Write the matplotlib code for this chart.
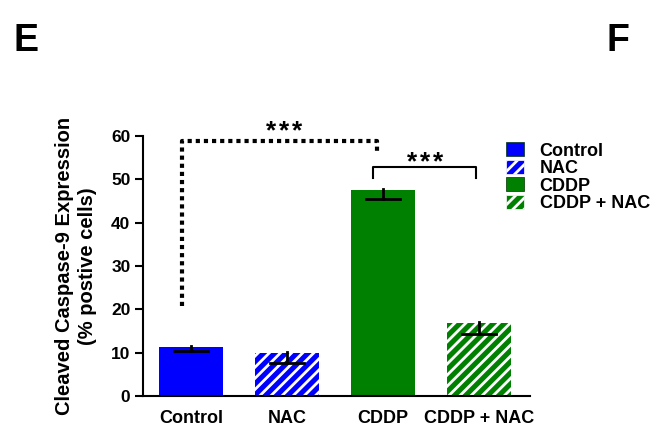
import matplotlib.pyplot as plt
from matplotlib.patches import Patch

plt.rcParams['font.family'] = ['Liberation Sans', 'DejaVu Sans']
plt.rcParams['font.weight'] = 'bold'
plt.rcParams['hatch.color'] = 'white'
plt.rcParams['hatch.linewidth'] = 2.0

# data
groups = ['Control', 'NAC', 'CDDP', 'CDDP + NAC']
means = [11.3, 10.0, 47.5, 16.8]
err_low = [10.4, 7.7, 45.4, 14.3]
err_high = [11.5, 10.2, 47.8, 17.1]
colors = ['#0000ff', '#0000ff', '#008000', '#008000']
hatches = [None, '///', None, '///']

fig = plt.figure(figsize=(6.55, 4.34), dpi=100)
ax = fig.add_axes([0.2183, 0.0876, 0.5907, 0.599])

x = range(len(groups))
bars = ax.bar(x, means, width=0.66, color=colors, linewidth=0)
for b, h in zip(bars, hatches):
    if h:
        b.set_hatch(h)
        b.set_edgecolor('white')

# error marks: cap at lower value, stem up
for xi, lo, hi in zip(x, err_low, err_high):
    ax.plot([xi - 0.18, xi + 0.18], [lo, lo], color='black', lw=2)
    ax.plot([xi, xi], [lo, hi], color='black', lw=2)

ax.set_xlim(-0.5, 3.53)
ax.set_ylim(0, 60)
ax.set_yticks([0, 10, 20, 30, 40, 50, 60])
ax.set_xticks(list(x))
ax.set_xticklabels(groups, fontsize=13, fontweight='bold')
ax.tick_params(axis='x', length=0, pad=10)
ax.tick_params(axis='y', length=6, width=1.5, labelsize=12.5, pad=3)
for lab in ax.get_yticklabels():
    lab.set_fontweight('bold')
ax.spines['top'].set_visible(False)
ax.spines['right'].set_visible(False)
ax.spines['left'].set_linewidth(1.5)
ax.spines['bottom'].set_linewidth(1.5)
ax.set_ylabel('Cleaved Caspase-9 Expression\n(% postive cells)', fontsize=14.5,
              fontweight='bold', labelpad=10, linespacing=1.25)


def stars(xc, y):
    # three spaced asterisks
    for dx in (-0.139, 0, 0.139):
        ax.text(xc + dx, y, '*', ha='center', va='baseline', fontsize=19,
                fontweight='bold', clip_on=False)


# significance: Control vs CDDP (dotted)
ax.plot([-0.09, -0.09, 1.94, 1.94], [20.7, 58.9, 58.9, 56.0], color='black',
        lw=3, linestyle=(0, (1, 0.95)), clip_on=False)
stars(0.97, 59.5)

# CDDP vs CDDP + NAC
ax.plot([1.90, 1.90, 2.97, 2.97], [50.3, 52.9, 52.9, 50.3], color='black', lw=1.5)
stars(2.44, 52.3)

handles = [Patch(facecolor=c, edgecolor='white' if h else '#003300', hatch=h, linewidth=0.5)
           for c, h in zip(colors, hatches)]
fig.legend(handles, groups, loc='upper left', bbox_to_anchor=(0.773, 0.672),
           frameon=False, prop={'weight': 'bold', 'size': 13},
           handlelength=1.0, handleheight=0.8, handletextpad=0.85, labelspacing=0.02,
           borderaxespad=0, borderpad=0)

fig.text(0.021, 0.905, 'E', fontsize=27, fontweight='bold', va='center')
fig.text(0.926, 0.905, 'F', fontsize=27, fontweight='bold', va='center')

fig.savefig('out.png', dpi=100)
